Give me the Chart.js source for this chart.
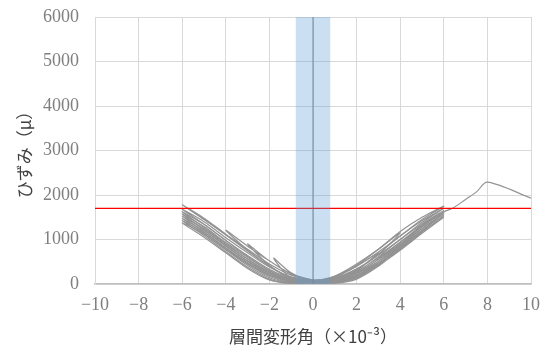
<!DOCTYPE html>
<html>
<head>
<meta charset="utf-8">
<script src="https://cdn.jsdelivr.net/npm/chart.js@4/dist/chart.umd.min.js"></script>
<style>
  html, body { margin: 0; padding: 0; background: #fff; }
  #wrap { width: 556px; height: 345px; }
</style>
</head>
<body>
<div id="wrap"><canvas id="strainChart" width="556" height="345"></canvas></div>
<script>
// drift angle (x10^-3) and strain (micro)
const driftEarly  = [0, 0.5, 1, 0.5, 0, -0.5, -1, -0.5, 0, 1, 2, 1, 0, -1, -1.8, -1, 0,
                     1, 2, 3, 2, 1, 0, -1, -2, -3, -2, -1, 0,
                     1, 2, 3, 4, 3, 2, 1, 0, -1, -2, -3, -4, -3, -2, -1, 0];
const strainEarly = [0, 20, 60, 40, 20, 30, 80, 50, 30, 70, 260, 120, 50, 130, 580, 250, 60,
                     80, 300, 700, 400, 160, 60, 120, 420, 900, 520, 220, 70,
                     90, 320, 660, 1150, 780, 450, 180, 70, 130, 400, 760, 1210, 850, 520, 230, 80];

// +-6 cycles share the same drift steps
const driftCycle6 = [0, 1, 2, 3, 4, 5, 6, 5, 4, 3, 2, 1, 0, -1, -2, -3, -4, -5, -6, -5, -4, -3, -2, -1, 0];
const strainCycle1 = [60, 150, 420, 780, 1180, 1500, 1750, 1450, 1080, 720, 400, 170, 80, 150, 400, 740, 1100, 1450, 1780, 1480, 1120, 780, 450, 200, 90];
const strainCycle2 = [90, 120, 330, 680, 1080, 1420, 1700, 1380, 1000, 650, 340, 140, 70, 100, 300, 620, 980, 1340, 1680, 1400, 1040, 700, 380, 160, 80];
const strainCycle3 = [80, 90, 270, 610, 1000, 1350, 1650, 1320, 940, 590, 290, 110, 60, 80, 250, 560, 910, 1270, 1620, 1340, 980, 640, 330, 130, 70];
const strainCycle4 = [70, 70, 230, 560, 940, 1300, 1620, 1280, 900, 550, 260, 90, 50, 60, 210, 510, 860, 1220, 1570, 1290, 930, 600, 300, 110, 60];
const strainCycle5 = [60, 50, 190, 510, 890, 1250, 1580, 1240, 860, 510, 230, 70, 50, 40, 170, 460, 810, 1170, 1520, 1240, 890, 560, 270, 90, 50];
const strainCycle6 = [50, 40, 160, 470, 850, 1210, 1550, 1200, 820, 480, 200, 60, 40, 30, 140, 420, 770, 1130, 1470, 1200, 850, 520, 240, 70, 40];
const strainCycle7 = [40, 30, 130, 430, 810, 1170, 1520, 1170, 790, 450, 180, 50, 40, 20, 110, 380, 730, 1090, 1420, 1160, 810, 480, 210, 60, 40];
const strainCycle8 = [40, 20, 110, 400, 780, 1140, 1500, 1140, 760, 420, 160, 40, 30, 10, 90, 350, 700, 1050, 1370, 1120, 780, 450, 190, 50, 30];

const driftFinal  = [0, 1, 2, 3, 4, 5, 6, 6.4, 7, 7.5, 8, 10];
const strainFinal = [30, 40, 150, 440, 800, 1180, 1620, 1700, 1900, 2070, 2290, 1930];

const yieldStrain = 1700;
const bandLeft = -0.8;
const bandRight = 0.8;

const lineGray = '#939393';

function toPoints(xs, ys) {
    return xs.map((x, i) => ({ x: x, y: ys[i] }));
}

const cycles = [strainCycle1, strainCycle2, strainCycle3, strainCycle4,
                strainCycle5, strainCycle6, strainCycle7, strainCycle8];

const datasets = [];

// band is listed first so it is drawn on top of the loops
datasets.push({
    data: [{ x: bandLeft, y: 6000 }, { x: bandRight, y: 6000 }],
    fill: 'origin',
    backgroundColor: 'rgba(91,155,213,0.32)',
    borderWidth: 0,
    pointRadius: 0
});
datasets.push({
    data: [{ x: -10, y: yieldStrain }, { x: 10, y: yieldStrain }],
    borderColor: '#ff0000',
    borderWidth: 1.3,
    pointRadius: 0
});
datasets.push({
    data: [{ x: 0, y: 0 }, { x: 0, y: 6000 }],
    borderColor: '#7f7f7f',
    borderWidth: 1,
    pointRadius: 0
});

const strainSeries = [toPoints(driftEarly, strainEarly)]
    .concat(cycles.map(c => toPoints(driftCycle6, c)))
    .concat([toPoints(driftFinal, strainFinal)]);

strainSeries.forEach(pts => {
    datasets.push({
        data: pts,
        borderColor: lineGray,
        borderWidth: 1.2,
        pointRadius: 0,
        tension: 0.3
    });
});

const tickFont = { family: '"Liberation Serif", "DejaVu Serif", serif', size: 18 };
const titleFont = { family: '"Noto Sans CJK JP", sans-serif', size: 17, lineHeight: 1 };

function fmt(v) {
    return v < 0 ? '\u2212' + Math.abs(v) : String(v);
}

function drawChart() {
    new Chart(document.getElementById('strainChart').getContext('2d'), {
        type: 'scatter',
        data: { datasets: datasets },
        options: {
            responsive: false,
            animation: false,
            showLine: true,
            layout: { padding: { top: 17, right: 25, left: 0, bottom: 0 } },
            plugins: {
                legend: { display: false },
                tooltip: { enabled: false }
            },
            scales: {
                x: {
                    type: 'linear',
                    min: -10,
                    max: 10,
                    ticks: {
                        stepSize: 2,
                        color: '#7f7f7f',
                        font: tickFont,
                        padding: 10,
                        callback: v => fmt(v)
                    },
                    grid: { color: '#d9d9d9', drawTicks: false },
                    border: { color: '#bfbfbf', width: 1.5 },
                    title: {
                        display: true,
                        text: '層間変形角（×10⁻³）',
                        color: '#404040',
                        font: titleFont,
                        padding: { top: 0, bottom: 0 }
                    },
                    afterFit: scale => { scale.height = 61; }
                },
                y: {
                    min: 0,
                    max: 6000,
                    ticks: {
                        stepSize: 1000,
                        color: '#7f7f7f',
                        font: tickFont,
                        padding: 16,
                        callback: v => fmt(v)
                    },
                    grid: { color: '#d9d9d9', drawTicks: false },
                    border: { color: '#d9d9d9' },
                    title: {
                        display: true,
                        text: 'ひずみ（μ）',
                        color: '#404040',
                        font: titleFont,
                        padding: { top: 16, bottom: 0 }
                    },
                    afterFit: scale => {
                        scale.width = 95;
                        scale.paddingTop = 0;
                        scale.paddingBottom = 0;
                    }
                }
            }
        }
    });
}

Promise.all([
    document.fonts.load('18px "Liberation Serif"'),
    document.fonts.load('17px "Noto Sans CJK JP"')
]).then(drawChart, drawChart);
</script>
</body>
</html>
